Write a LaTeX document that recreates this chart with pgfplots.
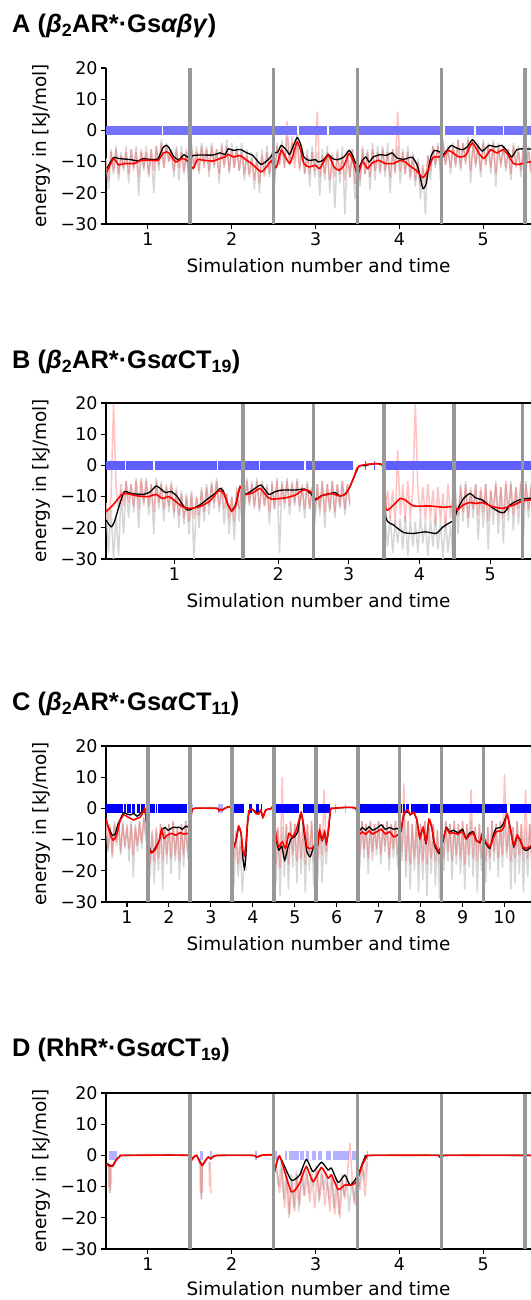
\documentclass[border=0pt]{standalone}
\usepackage{fontspec}
\setmainfont{DejaVu Sans}
\newfontfamily\titlefont{Liberation Sans}
\usepackage{pgfplots}
\usepackage{pgfplotstable}
\pgfplotsset{compat=1.18}

\definecolor{rawgray}{RGB}{214,214,214}
\definecolor{vgray}{RGB}{152,152,152}
\definecolor{bandA}{RGB}{115,115,255}
\definecolor{bandB}{RGB}{95,95,255}
\definecolor{bandC}{RGB}{0,0,255}
\definecolor{bandD}{RGB}{160,160,255}

% raw (noisy) energies, sampled every 0.03 units from x=0.5
\pgfplotstableread[header=false,row sep=\\]{
-9\\-19\\-6\\-14\\-5\\-16\\-7\\-13\\-5\\-17\\
-6\\-12\\-5\\-21\\-7\\-13\\-5\\-15\\-6\\-20\\
-5\\-13\\-3\\-12\\-4\\-10\\-6\\-15\\-5\\-16\\
-5\\-13\\-7\\-19\\-4\\-12\\-5\\-14\\-4\\-11\\
-5\\-15\\-4\\-12\\-6\\-17\\-4\\-11\\-3\\-14\\
-4\\-12\\-5\\-13\\-4\\-16\\-6\\-14\\-7\\-19\\
-7\\-20\\-6\\-14\\-5\\-15\\-8\\-18\\-4\\-11\\
-3\\-12\\-2\\-10\\-4\\-9\\-1\\-12\\-5\\-14\\
-6\\-18\\-5\\-15\\-7\\-21\\-6\\-16\\-5\\-20\\
-7\\-25\\-6\\-17\\-5\\-27\\-7\\-15\\-6\\-22\\
-9\\-18\\-5\\-14\\-6\\-19\\-4\\-16\\-5\\-13\\
-5\\-15\\-4\\-20\\-6\\-13\\-5\\-17\\-6\\-14\\
-5\\-16\\-7\\-18\\-9\\-22\\-12\\-27\\-8\\-16\\
-5\\-12\\-4\\-16\\-3\\-11\\-5\\-14\\-4\\-12\\
-3\\-13\\-4\\-10\\-2\\-17\\-3\\-12\\-4\\-15\\
-3\\-11\\-4\\-14\\-3\\-18\\-4\\-12\\-5\\-13\\
-6\\-16\\-4\\-11\\-5\\-15\\-4\\-12\\-5\\-14\\
}\Agray
\pgfplotstableread[header=false,row sep=\\]{
-10\\-16\\-7\\-13\\-6\\-14\\-8\\-12\\-7\\-14\\
-6\\-13\\-7\\-15\\-6\\-12\\-7\\-14\\-6\\-13\\
-5\\-11\\-4\\-12\\-5\\-10\\-7\\-13\\-6\\-12\\
-7\\-14\\-6\\-15\\-6\\-12\\-7\\-13\\-5\\-12\\
-6\\-13\\-5\\-11\\-6\\-14\\-5\\-12\\-5\\-13\\
-6\\-12\\-6\\-13\\-7\\-14\\-8\\-15\\-9\\-16\\
-9\\-17\\-8\\-15\\-7\\-14\\-7\\-15\\-5\\-11\\
-5\\-12\\3\\-11\\-2\\-12\\-4\\-13\\-6\\-14\\
-8\\-14\\-7\\-13\\6\\-15\\-8\\-14\\-7\\-16\\
-8\\-15\\-7\\-14\\-8\\-16\\-7\\-15\\-6\\-17\\
-9\\-16\\-6\\-14\\-7\\-15\\-6\\-13\\-7\\-14\\
-6\\-13\\-7\\-15\\-6\\-14\\6\\-13\\-7\\-14\\
-7\\-15\\-8\\-16\\-10\\-18\\-11\\-17\\-8\\-13\\
-5\\-11\\-5\\-12\\-4\\-11\\-6\\-12\\-5\\-11\\
-3\\-12\\-4\\-11\\-3\\-13\\-4\\-11\\-5\\-13\\
-4\\-11\\-5\\-12\\-4\\-14\\-5\\-11\\-5\\-12\\
-6\\-14\\-5\\-12\\-7\\-13\\-6\\-12\\-7\\-13\\
}\Apink
\pgfplotstableread[header=false,row sep=\\]{
-12\\-28\\-14\\-30\\-16\\-29\\-8\\-22\\-5\\-17\\
-6\\-15\\-4\\-20\\-5\\-13\\-4\\-16\\-6\\-22\\
-4\\-14\\-5\\-18\\-6\\-15\\-5\\-17\\-7\\-20\\
-8\\-19\\-9\\-22\\-8\\-30\\-10\\-20\\-7\\-18\\
-6\\-16\\-5\\-14\\-4\\-15\\-7\\-19\\-9\\-22\\
-10\\-24\\-7\\-18\\-5\\-16\\-4\\-13\\-5\\-14\\
-4\\-15\\-5\\-13\\-6\\-19\\-5\\-14\\-4\\-28\\
-5\\-14\\-4\\-16\\-5\\-13\\-4\\-15\\-6\\-17\\
-5\\-14\\-7\\-19\\-6\\-16\\-5\\-20\\-6\\-15\\
-5\\-17\\-6\\-14\\-5\\-16\\-6\\-13\\nan\\nan\\
nan\\nan\\nan\\nan\\nan\\nan\\nan\\nan\\nan\\nan\\
nan\\-17\\-26\\-16\\-28\\-18\\-25\\-17\\-27\\-16\\
-29\\-17\\-26\\-18\\-28\\-16\\-25\\-18\\-29\\-17\\
-26\\-16\\-27\\-18\\-30\\-17\\-28\\-19\\-30\\-8\\
-22\\-6\\-18\\-5\\-20\\-7\\-17\\-6\\-24\\-8\\
-20\\-6\\-27\\-8\\-19\\-5\\-22\\-7\\-25\\-6\\
-18\\-5\\-21\\-7\\-19\\-6\\-23\\-5\\-17\\-6\\
}\Bgray
\pgfplotstableread[header=false,row sep=\\]{
-12\\-18\\-10\\20\\-7\\-14\\-6\\-13\\-5\\-12\\
-6\\-13\\-5\\-14\\-4\\-12\\-5\\-13\\-6\\-15\\
-5\\-12\\-6\\-14\\-7\\-13\\-6\\-15\\-8\\-16\\
-9\\-17\\-10\\-18\\-9\\-17\\-10\\-16\\-8\\-15\\
-7\\-13\\-6\\-12\\-5\\-13\\-7\\-14\\-9\\-17\\
-10\\-18\\-8\\-14\\-6\\-13\\-5\\-12\\-6\\-13\\
-5\\-14\\-6\\-13\\-7\\-15\\-6\\-14\\-5\\-13\\
-6\\-12\\-5\\-13\\-6\\-12\\-5\\-13\\-7\\-14\\
-6\\-14\\-7\\-16\\-6\\-14\\-5\\-15\\-6\\-14\\
-5\\-15\\-6\\-13\\-5\\-14\\-6\\-12\\nan\\nan\\
nan\\nan\\nan\\nan\\nan\\nan\\nan\\nan\\nan\\nan\\
nan\\-14\\-8\\-17\\-8\\-19\\5\\-16\\-6\\-18\\
-5\\-17\\-8\\20\\-7\\-16\\-7\\-18\\-6\\-17\\
-8\\-19\\-7\\-18\\-9\\-20\\-6\\-17\\-8\\-12\\
-16\\-7\\-15\\-6\\-17\\-8\\-14\\-6\\-16\\-7\\
-15\\-6\\-18\\-8\\-14\\-6\\-16\\-7\\-17\\-5\\
-15\\-6\\-16\\-7\\-14\\-5\\-15\\-6\\-14\\-7\\
}\Bpink
% panel C: sampled every 0.05 units from x=0.5
\pgfplotstableread[header=false,row sep=\\]{
-4\\-14\\-5\\-16\\-4\\-12\\-5\\-15\\-4\\-13\\
-5\\-17\\-4\\-22\\-5\\-14\\-4\\-13\\-3\\-10\\
-12\\-22\\-8\\-24\\-7\\-20\\-5\\-26\\-6\\-18\\
-5\\-21\\-4\\-17\\-6\\-23\\-5\\-19\\-4\\-16\\
-10\\nan\\nan\\nan\\nan\\nan\\nan\\nan\\nan\\nan\\
nan\\nan\\nan\\nan\\nan\\nan\\nan\\nan\\nan\\nan\\
-10\\-25\\-8\\-22\\-12\\-27\\-16\\-20\\nan\\nan\\
nan\\nan\\nan\\nan\\nan\\nan\\nan\\nan\\nan\\nan\\
-8\\-24\\-7\\-28\\-6\\-22\\-5\\-26\\-4\\-19\\
-5\\-24\\-4\\-21\\-6\\-27\\-5\\-20\\-4\\-25\\
-6\\-22\\-5\\-24\\-7\\-18\\-6\\nan\\nan\\nan\\
nan\\nan\\nan\\nan\\nan\\nan\\nan\\nan\\nan\\nan\\
-5\\-19\\-4\\-16\\-5\\-21\\-4\\-17\\-5\\-15\\
-4\\-18\\-5\\-14\\-4\\-20\\-5\\-16\\-4\\-19\\
-5\\-17\\-3\\-22\\-4\\-26\\-5\\-20\\-4\\-27\\
-5\\-23\\-4\\-28\\-6\\-21\\-5\\-25\\-7\\-29\\
-6\\-20\\-4\\-17\\-5\\-23\\-4\\-18\\-5\\-21\\
-4\\-26\\-5\\-19\\-4\\-22\\-6\\-27\\-5\\-20\\
-7\\-24\\-6\\-20\\-4\\-17\\-5\\-22\\-4\\-19\\
-3\\-16\\-5\\-26\\-6\\-24\\-4\\-21\\-5\\-27\\
-6\\-22\\-5\\-20\\
}\Cgray
\pgfplotstableread[header=false,row sep=\\]{
-5\\-13\\-6\\-15\\-5\\-11\\-4\\-14\\-5\\-12\\
-6\\-13\\-5\\-15\\-6\\-12\\-4\\-11\\-3\\-8\\
-10\\-18\\-7\\-17\\-6\\-16\\-5\\-17\\-6\\-15\\
-5\\-16\\-4\\-15\\-6\\-17\\-5\\-15\\-4\\-14\\
-8\\nan\\nan\\nan\\nan\\nan\\nan\\nan\\nan\\nan\\
nan\\nan\\nan\\nan\\nan\\nan\\nan\\nan\\nan\\nan\\
-9\\-16\\-7\\-18\\-10\\-17\\-12\\-15\\nan\\nan\\
nan\\nan\\nan\\nan\\nan\\nan\\nan\\nan\\nan\\nan\\
-7\\-18\\-6\\-19\\10\\-17\\-5\\-18\\-4\\-15\\
-5\\-17\\-4\\-16\\-3\\-18\\-5\\-15\\-4\\-17\\
-6\\-16\\-5\\-15\\6\\-14\\-5\\nan\\nan\\nan\\
nan\\nan\\nan\\nan\\nan\\nan\\nan\\nan\\nan\\nan\\
-5\\-15\\-4\\-13\\-5\\-16\\-4\\-14\\-5\\-13\\
-4\\-15\\-5\\-12\\-4\\-16\\-5\\-13\\-4\\-15\\
-5\\-14\\8\\-17\\-4\\-18\\-5\\-16\\-4\\-18\\
-5\\-17\\-4\\-18\\-6\\-16\\-5\\-17\\-7\\-18\\
-6\\-16\\-4\\-14\\-5\\-17\\-4\\-15\\-5\\-16\\
-4\\-18\\-5\\-15\\6\\-16\\-6\\-17\\-5\\-16\\
-7\\-17\\-6\\-16\\-4\\-14\\-5\\-16\\-4\\-15\\
11\\-14\\-5\\-17\\-6\\-16\\-4\\-15\\-5\\-17\\
6\\-16\\-5\\-15\\
}\Cpink

\pgfplotsset{
  panel/.style={
    scale only axis, width=425bp, height=156bp, anchor=south west,
    axis x line*=bottom, axis y line*=left,
    axis line style={-, black, line width=1.1bp},
    ymin=-30, ymax=20, ytick={-30,-20,-10,0,10,20},
    yticklabels={−30,−20,−10,0,10,20},
    tick align=outside, major tick length=5bp,
    every tick/.style={black, line width=1.1bp},
    tick label style={font=\fontsize{17.5}{17.5}\selectfont},
    xlabel={Simulation number and time}, ylabel={energy in [kJ/mol]},
    label style={font=\fontsize{18.5}{18.5}\selectfont},
    xlabel style={at={(axis description cs:0.5,-0.31)}, anchor=base},
    ylabel style={at={(axis description cs:-0.141,0.5)}, anchor=base},
    unbounded coords=jump, clip=true,
  },
  raw/.style={rawgray, line width=1.5bp, line join=bevel},
  rawred/.style={red, opacity=0.24, line width=1.5bp, line join=bevel},
  band/.style={line width=9.4bp, line cap=butt},
  avgk/.style={black, line width=1.3bp, smooth, tension=0.35},
  avgr/.style={red, line width=1.6bp, smooth, tension=0.35},
  vline/.style={vgray, line width=3.6bp, line cap=butt},
}
\newcommand\paneltitle[1]{\titlefont\bfseries\fontsize{25.5}{25.5}\selectfont #1}

\begin{document}
\begin{tikzpicture}
\useasboundingbox (0,0) rectangle (531bp,1300bp);

% ---------------- A ----------------
\node[anchor=base west, inner sep=0] at (12bp,1267bp)
  {\paneltitle{A (\textit{β}\textsubscript{2}AR*·Gs\textit{αβγ})}};
\begin{axis}[panel, name=A, at={(106bp,1076bp)},
    xmin=0.5, xmax=5.57, xtick={1,2,3,4,5}, xticklabels={1,2,3,4,5}]
\addplot[raw] table[x expr={0.5+0.03*\coordindex}, y index=0] {\Agray};
\addplot[rawred] table[x expr={0.5+0.03*\coordindex}, y index=0] {\Apink};
\addplot[band, bandA] coordinates {(0.5,0)(1.165,0)(1.17,nan)(1.185,0)(2.775,0)(2.78,nan)
  (2.80,0)(3.14,0)(3.15,nan)(3.16,0)(4.52,0)(4.53,nan)(4.55,0)(4.89,0)(4.90,nan)
  (4.91,0)(5.23,0)(5.24,nan)(5.25,0)(5.57,0)};
\addplot[avgk] coordinates {
  (0.51,-12.2)(0.59,-8.7)(0.65,-9.0)(0.80,-9.4)(0.88,-9.8)(0.94,-9.1)(1.04,-9.3)
  (1.12,-9.1)(1.18,-5.5)(1.22,-4.8)(1.25,-5.5)(1.31,-8.5)(1.37,-9.4)(1.43,-7.8)
  (1.48,-8.7)(1.55,-8.0)(1.63,-7.9)(1.78,-7.9)(1.86,-7.2)(1.92,-7.7)(1.96,-5.9)
  (2.02,-6.4)(2.10,-6.1)(2.18,-7.2)(2.25,-8.0)(2.35,-10.9)(2.45,-9.0)(2.49,-7.4)
  (2.55,-6.9)(2.59,-4.8)(2.65,-6.2)(2.69,-7.7)(2.73,-5.3)(2.78,-2.3)(2.82,-4.3)
  (2.86,-8.5)(2.92,-9.6)(3.00,-9.4)(3.03,-10.1)(3.09,-9.6)(3.15,-7.7)(3.20,-9.0)
  (3.26,-9.4)(3.34,-8.5)(3.40,-6.4)(3.44,-8.0)(3.48,-10.6)(3.52,-11.7)(3.56,-9.6)
  (3.60,-8.5)(3.64,-10.1)(3.69,-8.5)(3.77,-7.8)(3.85,-8.0)(3.91,-7.2)(3.97,-8.8)
  (4.05,-9.3)(4.11,-8.8)(4.16,-8.7)(4.22,-11.7)(4.28,-18.6)(4.32,-17.0)(4.35,-11.7)
  (4.38,-8.0)(4.42,-6.4)(4.48,-6.9)(4.52,-7.8)(4.56,-6.6)(4.62,-4.8)(4.67,-5.5)
  (4.75,-6.2)(4.81,-5.3)(4.87,-3.0)(4.93,-4.8)(4.99,-6.6)(5.07,-4.8)(5.15,-5.3)
  (5.22,-4.8)(5.28,-6.4)(5.34,-8.5)(5.40,-6.2)(5.47,-5.9)(5.57,-6.0)};
\addplot[avgr] coordinates {
  (0.51,-13.3)(0.59,-9.1)(0.65,-11.0)(0.73,-10.6)(0.84,-10.6)(0.92,-9.6)(1.04,-9.6)
  (1.12,-9.6)(1.18,-7.4)(1.22,-6.9)(1.25,-7.2)(1.33,-10.1)(1.41,-9.0)(1.48,-9.9)
  (1.54,-12.2)(1.59,-9.4)(1.67,-9.6)(1.78,-9.8)(1.86,-9.0)(1.92,-8.5)(1.96,-7.7)
  (2.02,-8.5)(2.10,-8.1)(2.18,-9.6)(2.25,-10.9)(2.35,-13.3)(2.43,-11.2)(2.47,-9.8)
  (2.53,-11.9)(2.59,-6.4)(2.63,-8.0)(2.69,-10.6)(2.73,-8.0)(2.78,-3.7)(2.82,-6.2)
  (2.86,-10.6)(2.92,-11.7)(3.00,-11.2)(3.05,-12.2)(3.15,-8.0)(3.22,-11.7)(3.28,-12.8)
  (3.34,-11.2)(3.40,-7.4)(3.46,-10.6)(3.50,-14.4)(3.56,-10.1)(3.62,-12.2)(3.67,-10.6)
  (3.75,-9.6)(3.83,-10.6)(3.93,-10.6)(4.01,-9.6)(4.07,-10.1)(4.13,-11.5)(4.20,-12.8)
  (4.28,-15.1)(4.34,-12.8)(4.40,-8.7)(4.46,-8.5)(4.52,-8.5)(4.58,-6.4)(4.64,-7.2)
  (4.71,-8.5)(4.79,-8.0)(4.87,-4.0)(4.95,-7.4)(5.01,-9.0)(5.09,-6.2)(5.16,-7.2)
  (5.24,-6.2)(5.30,-8.0)(5.36,-10.6)(5.42,-10.9)(5.47,-10.6)(5.57,-10.0)};
\addplot[vline] coordinates {(1.5,-30)(1.5,20)(1.5,nan)(2.5,-30)(2.5,20)(2.5,nan)
  (3.5,-30)(3.5,20)(3.5,nan)(4.5,-30)(4.5,20)(4.5,nan)(5.5,-30)(5.5,20)};
\end{axis}

% ---------------- B ----------------
\node[anchor=base west, inner sep=0] at (12bp,931bp)
  {\paneltitle{B (\textit{β}\textsubscript{2}AR*·Gs\textit{α}CT\textsubscript{19})}};
\begin{axis}[panel, name=B, at={(106bp,741bp)},
    xmin=0.5, xmax=5.57, xtick={1.315,2.553,3.396,4.239,5.082}, xticklabels={1,2,3,4,5}]
\addplot[raw] table[x expr={0.5+0.03*\coordindex}, y index=0] {\Bgray};
\addplot[rawred] table[x expr={0.5+0.03*\coordindex}, y index=0] {\Bpink};
\addplot[band, bandB] coordinates {(0.5,0)(0.725,0)(0.73,nan)(0.74,0)(1.065,0)(1.07,nan)
  (1.08,0)(1.825,0)(1.83,nan)(1.84,0)(2.325,0)(2.33,nan)(2.34,0)(2.865,0)(2.87,nan)
  (2.88,0)(3.445,0)(3.45,nan)(3.595,0)(3.605,0)(3.61,nan)(3.695,0)(3.705,0)(3.71,nan)
  (3.82,0)(5.57,0)};
\addplot[avgk] coordinates {
  (0.50,-17.5)(0.56,-19.7)(0.60,-18.1)(0.66,-12.7)(0.72,-8.4)(0.80,-9.0)(0.95,-9.3)
  (1.03,-8.4)(1.10,-6.6)(1.17,-7.9)(1.21,-8.7)(1.28,-8.4)(1.35,-10.0)(1.41,-12.5)
  (1.47,-14.3)(1.52,-14.0)(1.62,-12.7)(1.72,-10.6)(1.80,-9.0)(1.86,-7.4)(1.90,-8.2)
  (1.95,-12.2)(2.00,-14.6)(2.05,-12.2)(2.10,-6.8)(2.16,-9.3)(2.25,-7.9)(2.35,-6.3)
  (2.44,-9.3)(2.52,-8.4)(2.60,-7.9)(2.76,-7.9)(2.87,-7.6)(2.94,-9.0)(3.00,-10.8)
  (3.07,-9.7)(3.15,-9.3)(3.23,-8.7)(3.29,-9.8)(3.35,-9.3)(3.40,-7.4)(3.46,-3.6)
  (3.52,-0.2)(3.58,-0.1)(3.80,-0.1)(3.84,-16.8)(3.93,-19.1)(4.05,-21.5)(4.17,-21.8)
  (4.31,-21.3)(4.44,-21.8)(4.52,-19.7)(4.62,-18.1)(4.65,-17.8)(4.69,-14.3)(4.76,-10.8)
  (4.84,-9.0)(4.91,-10.4)(4.99,-11.1)(5.09,-13.2)(5.19,-14.9)(5.25,-15.1)(5.32,-12.7)
  (5.40,-11.4)(5.47,-10.8)(5.57,-10.5)};
\addplot[avgr] coordinates {
  (0.50,-14.9)(0.60,-12.2)(0.68,-9.5)(0.74,-9.0)(0.88,-9.8)(1.00,-10.0)(1.10,-9.3)
  (1.17,-10.6)(1.25,-10.0)(1.31,-11.1)(1.41,-13.2)(1.50,-13.8)(1.62,-13.2)(1.74,-11.4)
  (1.84,-8.2)(1.90,-8.8)(1.95,-12.2)(2.00,-14.6)(2.05,-12.7)(2.10,-6.8)(2.16,-9.3)
  (2.25,-8.8)(2.34,-7.4)(2.42,-10.0)(2.48,-10.8)(2.64,-10.4)(2.76,-9.5)(2.85,-7.9)
  (2.93,-8.2)(2.97,-9.5)(3.00,-11.1)(3.09,-9.5)(3.19,-9.0)(3.27,-9.7)(3.34,-9.5)
  (3.40,-7.4)(3.46,-3.6)(3.52,-0.2)(3.80,-0.1)(3.84,-14.0)(3.93,-12.7)(4.01,-10.6)
  (4.07,-11.1)(4.17,-13.0)(4.36,-13.0)(4.52,-13.4)(4.62,-13.2)(4.65,-13.0)(4.69,-14.3)
  (4.76,-12.7)(4.84,-11.9)(4.91,-12.2)(4.99,-11.9)(5.11,-13.2)(5.23,-13.8)(5.30,-13.2)
  (5.38,-12.5)(5.47,-11.4)(5.57,-11.0)};
\addplot[vline] coordinates {(2.131,-30)(2.131,20)(2.131,nan)(2.974,-30)(2.974,20)(2.974,nan)
  (3.817,-30)(3.817,20)(3.817,nan)(4.653,-30)(4.653,20)(4.653,nan)(5.47,-30)(5.47,20)};
\end{axis}
\draw[line width=1.1bp] (B.north west) -- (B.north east);

% ---------------- C ----------------
\node[anchor=base west, inner sep=0] at (12bp,589bp)
  {\paneltitle{C (\textit{β}\textsubscript{2}AR*·Gs\textit{α}CT\textsubscript{11})}};
\begin{axis}[panel, name=C, at={(106bp,398bp)},
    xmin=0.5, xmax=10.63, xtick={1,...,10}, xticklabels={1,2,3,4,5,6,7,8,9,10}]
\addplot[raw] table[x expr={0.5+0.05*\coordindex}, y index=0] {\Cgray};
\addplot[rawred] table[x expr={0.5+0.05*\coordindex}, y index=0] {\Cpink};
\addplot[band, bandC] coordinates {(0.5,0)(0.90,0)(0.91,nan)(0.92,0)(0.98,0)(0.99,nan)
  (1.01,0)(1.10,0)(1.11,nan)(1.13,0)(1.20,0)(1.21,nan)(1.23,0)(1.30,0)(1.31,nan)
  (1.33,0)(1.42,0)(1.43,nan)(1.54,0)(1.67,0)(1.68,nan)(1.69,0)(1.71,0)(1.72,nan)
  (1.73,0)(2.43,0)(2.44,nan)(3.54,0)(3.80,0)(3.81,nan)(3.91,0)(3.99,0)(4.00,nan)
  (4.07,0)(4.15,0)(4.16,nan)(4.20,0)(4.22,0)(4.23,nan)(4.54,0)(5.11,0)(5.12,nan)
  (5.19,0)(5.83,0)(5.84,nan)(6.53,0)(7.55,0)(7.56,nan)(7.57,0)(7.62,0)(7.63,nan)
  (7.66,0)(7.72,0)(7.73,nan)(7.76,0)(8.17,0)(8.18,nan)(8.22,0)(10.05,0)(10.06,nan)
  (10.12,0)(10.63,0)};
\addplot[band, bandC, opacity=0.3] coordinates {(2.56,0)(2.58,0)(2.59,nan)(3.17,0)(3.28,0)
  (3.29,nan)(5.95,0)(5.97,0)(5.98,nan)(6.20,0)(6.22,0)};
\addplot[avgk] coordinates {
  (0.50,-3.7)(0.57,-6.4)(0.65,-8.6)(0.72,-8.2)(0.78,-5.3)(0.86,-2.9)(0.92,-1.4)
  (1.00,-1.8)(1.08,-2.1)(1.16,-1.6)(1.24,-2.5)(1.31,-1.8)(1.39,-0.5)(1.43,-0.3)
  (1.54,-12.8)(1.61,-13.9)(1.69,-12.3)(1.77,-10.2)(1.83,-7.0)(1.91,-6.1)(1.98,-7.0)
  (2.09,-6.1)(2.18,-6.1)(2.26,-6.1)(2.32,-6.7)(2.40,-5.7)(2.46,-5.9)(2.50,-8.0)
  (2.54,-1.1)(2.60,0)(3.15,0)(3.19,-0.7)(3.24,-0.3)(3.28,-0.5)(3.33,0)(3.48,0)
  (3.52,-12.3)(3.60,-10.2)(3.66,-6.1)(3.72,-8.0)(3.76,-15.5)(3.80,-19.3)(3.83,-16.0)
  (3.87,-5.9)(3.91,-1.1)(3.99,-0.3)(4.07,-1.1)(4.13,-1.8)(4.19,-0.7)(4.24,-2.5)
  (4.31,-0.5)(4.43,-0.1)(4.48,0)(4.56,-10.2)(4.62,-13.4)(4.69,-12.1)(4.76,-16.6)
  (4.84,-12.3)(4.92,-9.6)(4.99,-9.1)(5.07,-7.5)(5.15,-1.4)(5.21,-6.4)(5.29,-13.9)
  (5.37,-15.5)(5.45,-12.1)(5.51,-12.1)(5.54,-12.3)(5.59,-7.5)(5.65,-10.2)(5.71,-8.0)
  (5.75,-11.2)(5.80,-7.5)(5.85,-0.5)(5.91,0)(6.45,0)(6.53,-7.0)(6.61,-6.1)(6.69,-7.0)
  (6.77,-5.9)(6.85,-7.0)(6.95,-6.4)(7.06,-5.3)(7.16,-6.7)(7.26,-6.1)(7.36,-6.7)
  (7.44,-6.4)(7.53,-7.0)(7.58,-2.9)(7.63,-1.4)(7.69,-0.7)(7.75,-2.1)(7.83,-1.4)
  (7.91,-3.7)(7.98,-9.1)(8.06,-6.4)(8.13,-11.2)(8.20,-3.7)(8.27,-6.7)(8.33,-11.8)
  (8.39,-13.4)(8.44,-14.4)(8.53,-10.7)(8.61,-6.1)(8.69,-7.5)(8.78,-7.0)(8.89,-7.8)
  (9.00,-6.7)(9.08,-9.6)(9.16,-8.0)(9.25,-7.5)(9.33,-10.2)(9.41,-11.0)(9.47,-9.1)
  (9.55,-11.2)(9.65,-12.8)(9.73,-8.6)(9.80,-6.4)(9.91,-6.1)(9.98,-4.6)(10.06,-2.1)
  (10.14,-6.4)(10.22,-12.3)(10.30,-9.1)(10.38,-10.2)(10.44,-12.8)(10.52,-13.5)(10.63,-12.5)};
\addplot[avgr] coordinates {
  (0.50,-3.2)(0.57,-7.0)(0.67,-10.2)(0.75,-8.6)(0.83,-4.3)(0.92,-2.1)(1.04,-2.9)
  (1.16,-3.7)(1.24,-3.2)(1.31,-2.9)(1.39,-1.1)(1.43,-0.5)(1.54,-13.4)(1.61,-14.1)
  (1.69,-12.8)(1.77,-10.2)(1.83,-6.7)(1.88,-9.6)(1.96,-8.6)(2.06,-8.0)(2.17,-8.6)
  (2.26,-7.8)(2.35,-8.2)(2.46,-8.0)(2.50,-8.0)(2.54,-1.1)(2.60,0)(3.15,0)(3.19,-0.7)
  (3.24,-0.3)(3.28,-0.5)(3.33,0)(3.48,0)(3.52,-12.8)(3.60,-10.2)(3.66,-5.7)(3.72,-8.0)
  (3.76,-13.4)(3.80,-15.0)(3.83,-12.3)(3.87,-4.8)(3.91,-0.7)(3.99,-0.3)(4.07,-1.6)
  (4.13,-1.8)(4.19,-0.5)(4.24,-2.9)(4.31,-0.5)(4.43,-0.1)(4.48,0)(4.56,-9.6)(4.62,-12.3)
  (4.70,-10.7)(4.78,-12.8)(4.86,-8.0)(4.94,-9.1)(5.02,-7.5)(5.09,-4.3)(5.15,-1.4)
  (5.21,-5.3)(5.29,-12.3)(5.39,-12.8)(5.51,-11.8)(5.54,-11.8)(5.59,-7.0)(5.65,-10.0)
  (5.71,-7.5)(5.75,-11.0)(5.80,-7.0)(5.85,-0.5)(5.91,0)(6.45,0)(6.53,-8.0)(6.61,-7.5)
  (6.69,-8.3)(6.77,-7.2)(6.85,-8.2)(6.95,-7.5)(7.06,-6.7)(7.16,-8.2)(7.26,-7.5)
  (7.36,-9.1)(7.44,-8.6)(7.53,-7.5)(7.58,-3.2)(7.63,-1.1)(7.69,-0.5)(7.75,-1.9)
  (7.83,-1.2)(7.91,-3.7)(7.98,-9.6)(8.06,-6.1)(8.13,-10.7)(8.20,-3.5)(8.27,-6.4)
  (8.33,-11.2)(8.39,-12.8)(8.44,-13.8)(8.53,-10.2)(8.61,-6.4)(8.69,-8.0)(8.78,-7.8)
  (8.89,-8.3)(9.00,-7.5)(9.08,-9.8)(9.16,-8.6)(9.25,-8.0)(9.33,-10.4)(9.41,-10.7)
  (9.47,-8.0)(9.55,-10.7)(9.65,-12.3)(9.73,-9.6)(9.80,-7.5)(9.91,-7.2)(9.98,-6.1)
  (10.06,-1.8)(10.14,-6.9)(10.22,-11.8)(10.30,-8.6)(10.38,-10.7)(10.44,-12.3)
  (10.52,-12.8)(10.63,-12.0)};
\addplot[vline] coordinates {(1.5,-30)(1.5,20)(1.5,nan)(2.5,-30)(2.5,20)(2.5,nan)
  (3.5,-30)(3.5,20)(3.5,nan)(4.5,-30)(4.5,20)(4.5,nan)(5.5,-30)(5.5,20)(5.5,nan)
  (6.5,-30)(6.5,20)(6.5,nan)(7.5,-30)(7.5,20)(7.5,nan)(8.5,-30)(8.5,20)(8.5,nan)
  (9.5,-30)(9.5,20)};
\end{axis}
\draw[line width=1.1bp] (C.north west) -- (C.north east);

% ---------------- D ----------------
\node[anchor=base west, inner sep=0] at (12bp,243bp)
  {\paneltitle{D (RhR*·Gs\textit{α}CT\textsubscript{19})}};
\begin{axis}[panel, name=D, at={(106bp,51bp)},
    xmin=0.5, xmax=5.57, xtick={1,2,3,4,5}, xticklabels={1,2,3,4,5},
    xlabel style={at={(axis description cs:0.5,-0.30)}}]
\addplot[raw] coordinates {(0.53,-2)(0.535,-10)(0.545,-3)(0.55,-12)(0.56,-4)(0.565,-9)(0.57,nan)
  (1.62,-1)(1.625,-12)(1.635,-2)(1.64,-14)(1.65,-3)(1.66,nan)(1.73,-2)(1.735,-10)(1.74,nan)
  (2.53,-3)(2.56,-10)(2.59,-2)(2.62,-14)(2.65,-5)(2.68,-20)(2.71,-6)(2.74,-17)(2.77,-5)
  (2.80,-18)(2.83,-4)(2.86,-13)(2.89,-3)(2.92,-12)(2.95,-5)(2.98,-10)(3.01,-3)(3.04,-15)
  (3.07,-4)(3.10,-11)(3.13,-5)(3.16,-14)(3.19,-6)(3.22,-17)(3.25,-7)(3.28,-19)(3.31,-6)
  (3.34,-13)(3.37,-7)(3.40,-18)(3.43,-8)(3.46,-15)(3.49,-5)(3.52,-10)(3.55,-2)(3.58,-8)(3.61,-1)};
\addplot[rawred] coordinates {(0.535,-3)(0.54,-12)(0.55,-4)(0.555,-11)(0.56,nan)
  (1.63,-2)(1.635,-14)(1.645,-3)(1.65,-12)(1.66,nan)(1.745,-2)(1.75,-12)(1.76,nan)
  (2.54,-5)(2.57,-12)(2.60,-4)(2.63,-17)(2.66,-7)(2.69,-19)(2.72,-8)(2.75,-18)(2.78,-6)
  (2.81,-16)(2.84,-5)(2.87,-13)(2.90,-6)(2.93,-15)(2.96,-7)(2.99,-17)(3.02,-5)(3.05,-14)
  (3.08,-6)(3.11,-16)(3.14,-8)(3.17,-18)(3.20,-7)(3.23,-19)(3.26,-9)(3.29,-20)(3.32,-8)
  (3.35,-14)(3.38,-6)(3.41,4)(3.44,-9)(3.47,-16)(3.50,-5)(3.53,-11)(3.56,-3)(3.59,-13)(3.62,-2)};
\addplot[band, bandD, opacity=0.8] coordinates {(0.53,0)(0.63,0)(0.64,nan)(1.62,0)(1.66,0)
  (1.67,nan)(1.74,0)(1.76,0)(1.77,nan)(2.28,0)(2.30,0)(2.31,nan)(2.52,0)(2.54,0)(2.55,nan)
  (2.63,0)(2.66,0)(2.67,nan)(2.68,0)(2.80,0)(2.81,nan)(2.82,0)(2.86,0)(2.87,nan)(2.88,0)
  (2.92,0)(2.93,nan)(2.96,0)(3.00,0)(3.01,nan)(3.03,0)(3.08,0)(3.09,nan)(3.12,0)(3.18,0)
  (3.19,nan)(3.21,0)(3.40,0)(3.41,nan)(3.43,0)(3.48,0)(3.49,nan)(3.61,0)(3.63,0)};
\addplot[avgk] coordinates {
  (0.50,-2.5)(0.54,-3.1)(0.58,-3.2)(0.62,-1.5)(0.67,-0.2)(0.72,0)(1.48,0)(1.51,-1.8)
  (1.55,-0.5)(1.58,0)(1.62,-2.0)(1.65,-3.0)(1.69,-1.5)(1.72,-0.5)(1.75,-1.0)(1.79,-0.2)
  (1.85,0)(2.25,0)(2.30,-0.6)(2.35,0)(2.49,0)(2.51,-4.7)(2.57,-0.4)(2.71,-7.9)(2.81,-6.3)
  (2.89,-1.3)(2.97,-5.2)(3.07,-2.2)(3.15,-4.7)(3.19,-4.1)(3.27,-8.7)(3.35,-6.3)(3.41,-9.5)
  (3.47,-7.9)(3.53,-4.7)(3.59,-0.6)(3.65,0)(4.47,0)(4.50,-0.8)(4.53,0)(5.57,0)};
\addplot[avgr] coordinates {
  (0.50,-2.8)(0.54,-3.4)(0.58,-3.5)(0.62,-1.6)(0.67,-0.2)(0.72,0)(1.48,0)(1.51,-1.8)
  (1.55,-0.4)(1.58,0)(1.62,-2.2)(1.65,-3.2)(1.69,-1.5)(1.72,-0.6)(1.75,-1.1)(1.79,-0.2)
  (1.85,0)(2.25,0)(2.30,-0.6)(2.35,0)(2.49,0)(2.51,-5.2)(2.57,-0.2)(2.71,-11.6)(2.81,-8.9)
  (2.89,-3.6)(2.97,-8.4)(3.07,-3.9)(3.15,-7.3)(3.19,-6.3)(3.27,-10.9)(3.35,-9.5)(3.43,-9.5)
  (3.49,-8.4)(3.55,-3.6)(3.61,-0.4)(3.67,0)(4.47,0)(4.50,-0.8)(4.53,0)(5.57,0)};
\addplot[vline] coordinates {(1.5,-30)(1.5,20)(1.5,nan)(2.5,-30)(2.5,20)(2.5,nan)
  (3.5,-30)(3.5,20)(3.5,nan)(4.5,-30)(4.5,20)(4.5,nan)(5.5,-30)(5.5,20)};
\end{axis}
\draw[line width=1.1bp] (D.north west) -- (D.north east);
\end{tikzpicture}
\end{document}
